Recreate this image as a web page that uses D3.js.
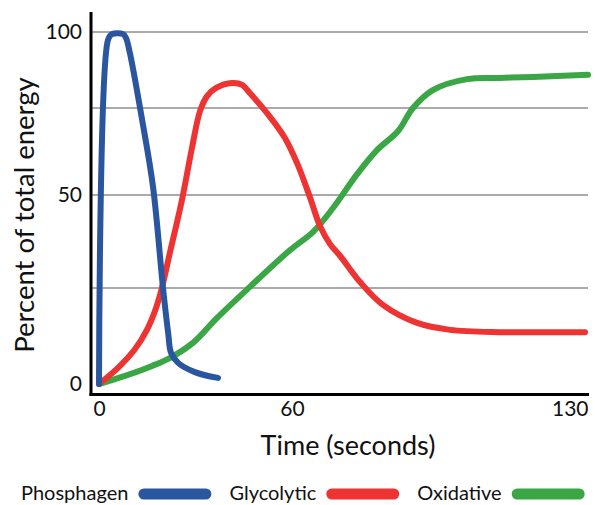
<!DOCTYPE html>
<html>
<head>
<meta charset="utf-8">
<script src="https://cdn.jsdelivr.net/npm/d3@7"></script>
<style>
  body { margin: 0; background: #fff; }
  text { font-family: Lato, "Open Sans", sans-serif; fill: #111; }
</style>
</head>
<body>
<div id="chart"></div>
<script>
// series: time in seconds, percent of total energy
const seriesNames = ["Phosphagen", "Glycolytic", "Oxidative"];
const seriesColors = ["#2a569f", "#ee3333", "#3aa646"];

const phosphagenTime = [0, 2.8, 4.0, 7.5, 8.4, 9.6, 13.4, 16.8, 19.9, 21.5, 22.4, 24.6, 29.8, 37.0];
const phosphagenPct  = [0, 97.4, 99.3, 99.3, 98.0, 93.1, 71.6, 52.3, 25.0, 13.3, 8.1, 5.5, 3.1, 1.6];

const glycolyticTime = [0, 5.9, 11.2, 14.9, 17.4, 19.3, 22.1, 25.8, 28.9, 31.4, 33.6, 36.4, 41.4, 44.5, 46.9,
  53.2, 57.8, 61.4, 64.3, 66.6, 69.0, 71.4, 76.1, 81.5, 89.6, 97.4, 109.2, 121.0, 129.3];
const glycolyticPct  = [0, 4.2, 9.1, 14.1, 19.0, 24.2, 34.7, 48.7, 63.5, 74.1, 78.9, 81.6, 83.2, 82.6, 79.9,
  72.4, 66.4, 58.6, 49.2, 41.7, 36.8, 33.6, 26.6, 20.6, 15.9, 14.1, 13.5, 13.5, 13.5];

const oxidativeTime = [0, 8.1, 16.5, 22.1, 29.2, 36.7, 46.9, 59.4, 65.0, 69.7, 75.4, 80.1, 85.1,
  88.6, 93.3, 101.4, 109.2, 117.0, 130];
const oxidativePct  = [0, 2.1, 4.7, 6.8, 10.7, 17.2, 25.3, 35.2, 40.1, 46.5, 56.0, 62.9, 68.4,
  75.0, 80.9, 84.5, 84.9, 85.2, 85.9];

const xTicks = [0, 60, 130];
const yTicks = [0, 50, 100];
const gridValues = [25, 50, 75, 100];

const width = 595, height = 505;

const svg = d3.select("#chart").append("svg")
  .attr("width", width)
  .attr("height", height);

// the original axes are not evenly spaced, so piecewise scales
const x = d3.scaleLinear().domain([0, 60, 130]).range([99, 292, 588]);
const y = d3.scaleLinear().domain([0, 25, 50, 75, 100]).range([384, 288, 195, 108, 32]);

// gridlines
svg.append("g")
  .selectAll("line")
  .data(gridValues)
  .join("line")
  .attr("x1", 91)
  .attr("x2", 588)
  .attr("y1", d => y(d))
  .attr("y2", d => y(d))
  .attr("stroke", "#aaaaaa")
  .attr("stroke-width", 2);

// series
const series = [
  { name: seriesNames[0], color: seriesColors[0], values: phosphagenTime.map((t, i) => [t, phosphagenPct[i]]) },
  { name: seriesNames[1], color: seriesColors[1], values: glycolyticTime.map((t, i) => [t, glycolyticPct[i]]) },
  { name: seriesNames[2], color: seriesColors[2], values: oxidativeTime.map((t, i) => [t, oxidativePct[i]]) }
];

const line = d3.line()
  .x(d => x(d[0]))
  .y(d => y(d[1]))
  .curve(d3.curveCatmullRom.alpha(0.5));

// draw green, red, then blue on top
svg.append("g")
  .selectAll("path")
  .data([series[2], series[1], series[0]])
  .join("path")
  .attr("d", d => line(d.values))
  .attr("fill", "none")
  .attr("stroke", d => d.color)
  .attr("stroke-width", 6)
  .attr("stroke-linecap", "round")
  .attr("stroke-linejoin", "round");

// axis lines
svg.append("line")
  .attr("x1", 91).attr("x2", 91)
  .attr("y1", 12).attr("y2", 396)
  .attr("stroke", "#000").attr("stroke-width", 3);
svg.append("line")
  .attr("x1", 89.5).attr("x2", 589)
  .attr("y1", 394.5).attr("y2", 394.5)
  .attr("stroke", "#000").attr("stroke-width", 3);

// tick labels
const yAxis = svg.append("g")
  .attr("transform", "translate(91,0)")
  .call(d3.axisLeft(y).tickValues(yTicks).tickSize(0).tickPadding(9));
yAxis.select(".domain").remove();
yAxis.selectAll("text")
  .style("font-size", "21px")
  .style("font-family", "Lato, 'Open Sans', sans-serif")
  .attr("fill", "#111");

const xAxis = svg.append("g")
  .attr("transform", "translate(0,396)")
  .call(d3.axisBottom(x).tickValues(xTicks).tickSize(0).tickPadding(5));
xAxis.select(".domain").remove();
xAxis.selectAll("text")
  .style("font-size", "21px")
  .style("font-family", "Lato, 'Open Sans', sans-serif")
  .attr("fill", "#111")
  .attr("text-anchor", d => d === 130 ? "end" : "middle");

// axis titles
svg.append("text")
  .attr("transform", "translate(34,215) rotate(-90)")
  .attr("text-anchor", "middle")
  .style("font-size", "27.5px")
  .text("Percent of total energy");

svg.append("text")
  .attr("x", 348)
  .attr("y", 455)
  .attr("text-anchor", "middle")
  .style("font-size", "27px")
  .text("Time (seconds)");

// legend
let lx = 21;
series.forEach(s => {
  const t = svg.append("text")
    .attr("x", lx)
    .attr("y", 500)
    .style("font-size", "20px")
    .text(s.name);
  lx += t.node().getComputedTextLength() + 10;
  svg.append("line")
    .attr("x1", lx + 5.5).attr("x2", lx + 73 - 5.5)
    .attr("y1", 494).attr("y2", 494)
    .attr("stroke", s.color)
    .attr("stroke-width", 11)
    .attr("stroke-linecap", "round");
  lx += 73 + 18;
});
</script>
</body>
</html>
